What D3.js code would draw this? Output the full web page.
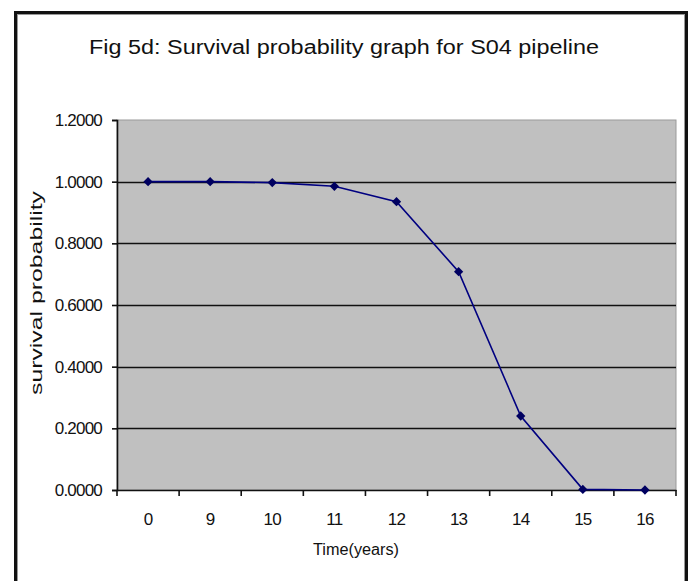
<!DOCTYPE html>
<html>
<head>
<meta charset="utf-8">
<script src="https://cdn.jsdelivr.net/npm/d3@7"></script>
<style>
  html, body { margin: 0; padding: 0; background: #fff; }
  svg { display: block; }
  text { font-family: "Liberation Sans", Arial, sans-serif; fill: #111; }
</style>
</head>
<body>
<svg id="chart" width="691" height="581"></svg>
<script>
// Survival probability of the S04 pipeline by year
const years = ["0", "9", "10", "11", "12", "13", "14", "15", "16"];
const survival = [1.0, 1.0, 0.997, 0.985, 0.935, 0.708, 0.240, 0.002, 0.0];
const yTicks = [0, 0.2, 0.4, 0.6, 0.8, 1.0, 1.2];

const titleText = "Fig 5d: Survival probability graph for S04 pipeline";
const xTitle = "Time(years)";
const yTitle = "survival probability";

const svg = d3.select("#chart");
const FONT = '"Liberation Sans", Arial, sans-serif';

// outer chart frame
svg.append("rect")
  .attr("x", 15.5).attr("y", 12.5)
  .attr("width", 671).attr("height", 580)
  .attr("fill", "#fff").attr("stroke", "#111").attr("stroke-width", 3);
svg.append("rect")
  .attr("x", 17.5).attr("y", 14.5)
  .attr("width", 667).attr("height", 580)
  .attr("fill", "none").attr("stroke", "#999").attr("stroke-width", 1);

const plot = { left: 117, top: 120, right: 676, bottom: 490 };

const x = d3.scaleBand().domain(years).range([plot.left, plot.right]).padding(0);
const y = d3.scaleLinear().domain([0, 1.2]).range([plot.bottom, plot.top]);

// plot background
svg.append("rect")
  .attr("x", plot.left).attr("y", plot.top)
  .attr("width", plot.right - plot.left).attr("height", plot.bottom - plot.top)
  .attr("fill", "#c0c0c0").attr("stroke", "#9a9a9a").attr("stroke-width", 1);

// horizontal gridlines
svg.append("g")
  .selectAll("line")
  .data(yTicks.filter(d => d > 0 && d < 1.2))
  .join("line")
  .attr("x1", plot.left).attr("x2", plot.right)
  .attr("y1", d => Math.round(y(d)) + 0.5).attr("y2", d => Math.round(y(d)) + 0.5)
  .attr("stroke", "#111").attr("stroke-width", 1.6);

// y axis
const yAxis = d3.axisLeft(y)
  .tickValues(yTicks)
  .tickFormat(d3.format(".4f"))
  .tickSize(5)
  .tickPadding(10);
const gy = svg.append("g")
  .attr("transform", `translate(${plot.left},0)`)
  .call(yAxis);
gy.select(".domain").attr("stroke", "#111").attr("stroke-width", 1.6);
gy.selectAll(".tick line").attr("stroke", "#111").attr("stroke-width", 1.6);
gy.selectAll(".tick text")
  .style("font-family", FONT)
  .style("font-size", "17px").attr("fill", "#111")
  .attr("letter-spacing", "-0.8");

// x axis with ticks at category boundaries
const xAxis = d3.axisBottom(x).tickSize(0).tickPadding(23);
const gx = svg.append("g")
  .attr("transform", `translate(0,${plot.bottom})`)
  .call(xAxis);
gx.select(".domain").attr("stroke", "#111").attr("stroke-width", 1.6);
gx.selectAll(".tick text")
  .style("font-family", FONT)
  .style("font-size", "17px").attr("fill", "#111")
  .attr("letter-spacing", "-0.8");
const bounds = years.map(d => x(d)).concat([x(years[years.length - 1]) + x.bandwidth()]);
gx.selectAll(".bound")
  .data(bounds)
  .join("line")
  .attr("class", "bound")
  .attr("x1", d => d).attr("x2", d => d)
  .attr("y1", 0).attr("y2", 6)
  .attr("stroke", "#111").attr("stroke-width", 1.6);

// survival curve
const cx = (d, i) => x(years[i]) + x.bandwidth() / 2;
const line = d3.line()
  .x((d, i) => cx(d, i))
  .y(d => y(d));
svg.append("path")
  .datum(survival)
  .attr("d", line)
  .attr("fill", "none")
  .attr("stroke", "#000080")
  .attr("stroke-width", 1.6);

// diamond markers
svg.append("g")
  .selectAll("path")
  .data(survival)
  .join("path")
  .attr("transform", (d, i) => `translate(${cx(d, i)},${y(d)})`)
  .attr("d", d3.symbol().type(d3.symbolDiamond2).size(55))
  .attr("fill", "#000060");

// titles
svg.append("text")
  .attr("x", 344).attr("y", 54)
  .attr("text-anchor", "middle")
  .attr("textLength", 510).attr("lengthAdjust", "spacingAndGlyphs")
  .style("font-size", "20px")
  .text(titleText);

svg.append("text")
  .attr("x", 356).attr("y", 555)
  .attr("text-anchor", "middle")
  .attr("textLength", 86).attr("lengthAdjust", "spacingAndGlyphs")
  .style("font-size", "16px")
  .text(xTitle);

svg.append("text")
  .attr("transform", "translate(42,293) rotate(-90)")
  .attr("text-anchor", "middle")
  .attr("textLength", 204).attr("lengthAdjust", "spacingAndGlyphs")
  .style("font-size", "16px")
  .text(yTitle);
</script>
</body>
</html>
